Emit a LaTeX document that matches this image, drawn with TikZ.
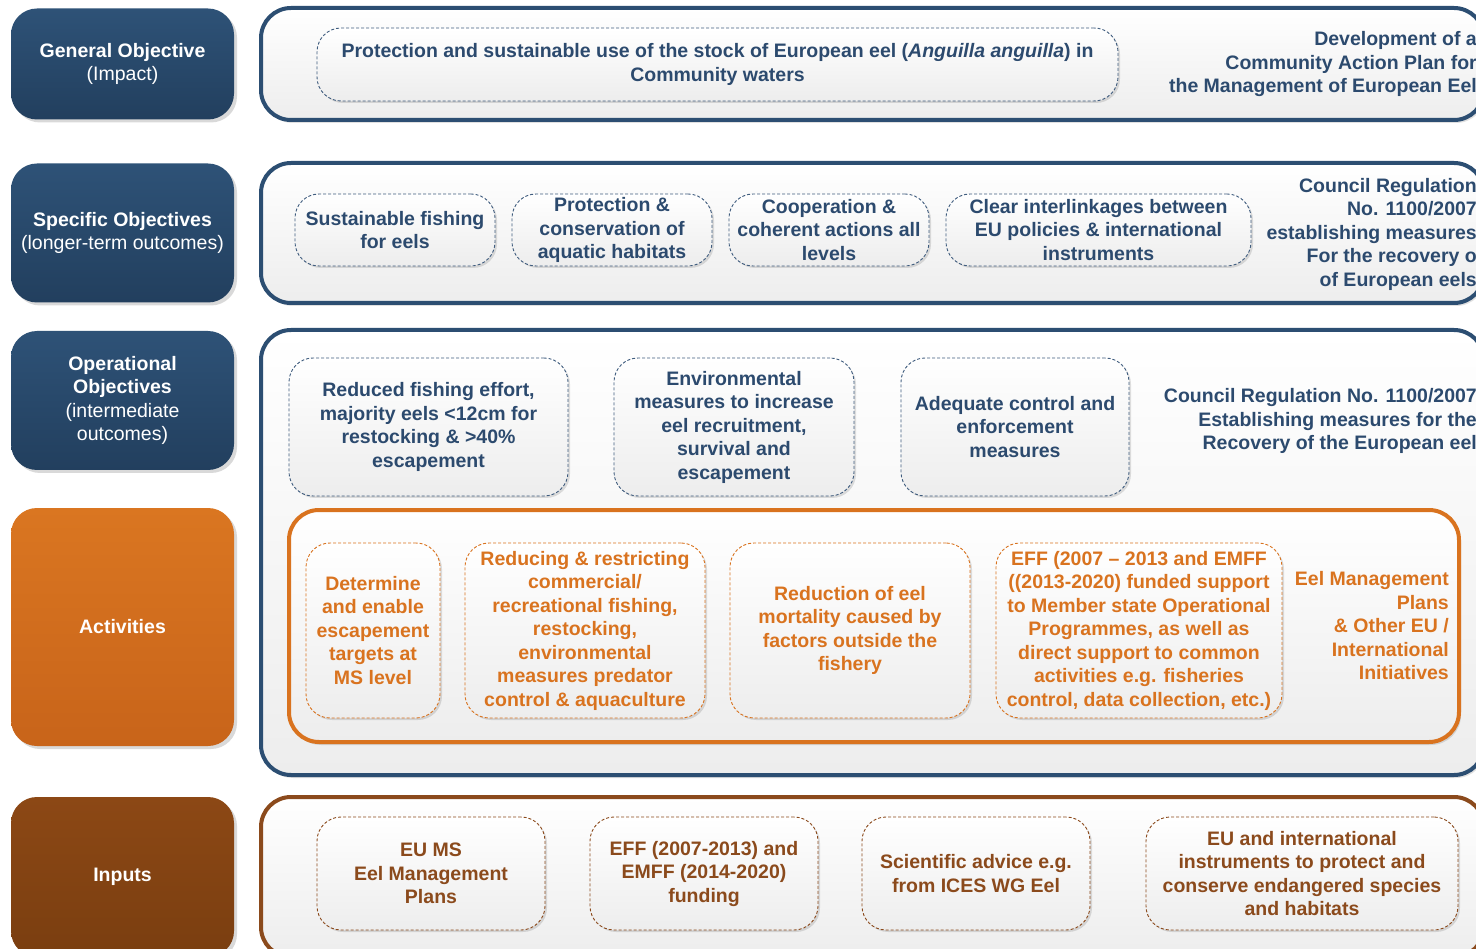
\documentclass[tikz,border=0pt]{standalone}
\usepackage{fontspec}
\setmainfont{Liberation Sans}
\usetikzlibrary{shadows}
\definecolor{dblue}{HTML}{2C4E72}
\definecolor{dbluetop}{HTML}{2E5277}
\definecolor{dbluebot}{HTML}{223F5E}
\definecolor{tblue}{HTML}{2C4A6E}
\definecolor{dashblue}{HTML}{3F5C7E}
\definecolor{orng}{HTML}{D9731F}
\definecolor{orngtop}{HTML}{DA7621}
\definecolor{orngbot}{HTML}{C8641A}
\definecolor{brwn}{HTML}{8B4A1C}
\definecolor{brwntop}{HTML}{8C4815}
\definecolor{brwnbot}{HTML}{7A3E10}
\definecolor{lgray}{HTML}{EDEDED}
\tikzset{
  leftbox/.style={rounded corners=26pt, minimum width=223pt, align=center, text=white, inner sep=2pt,
    drop shadow={shadow xshift=3pt, shadow yshift=-3pt, opacity=0.15, fill=black}},
  bluebox/.style={leftbox, top color=dbluetop, bottom color=dbluebot},
  orngbox/.style={leftbox, top color=orngtop, bottom color=orngbot},
  brwnbox/.style={leftbox, top color=brwntop, bottom color=brwnbot},
  cont/.style={rounded corners=30pt, line width=4pt, top color=white, bottom color=lgray,
    drop shadow={shadow xshift=2pt, shadow yshift=-3pt, opacity=0.12, fill=black}},
  dbox/.style={rounded corners=24pt, line width=0.9pt, dash pattern=on 3pt off 2pt, align=center,
    top color=white, bottom color=lgray, inner sep=2pt,
    drop shadow={shadow xshift=2pt, shadow yshift=-2pt, opacity=0.12, fill=black}},
  bdash/.style={dbox, draw=dashblue, text=tblue},
  odash/.style={dbox, draw=orng, text=orng},
  wdash/.style={dbox, draw=brwn, text=brwn},
  rtext/.style={anchor=east, align=right, inner sep=0pt},
}
\begin{document}
\begin{tikzpicture}[x=1pt, y=-1pt, font=\fontsize{19.5}{23.5}\selectfont\bfseries]
\useasboundingbox (0,0) rectangle (1476,949);
\fill[white] (0,0) rectangle (1476,949);

% left column
\node[bluebox, minimum height=111pt] (go) at (122.5,64) {General Objective\\{\mdseries (Impact)}};
\node[bluebox, minimum height=139pt] (so) at (122.5,233) {Specific Objectives\\{\mdseries (longer-term outcomes)}};
\node[bluebox, minimum height=139pt] (oo) at (122.5,400.5) {Operational\\Objectives\\{\mdseries (intermediate}\\{\mdseries outcomes)}};
\node[orngbox, minimum height=238pt] (act) at (122.5,627) {Activities};
\node[brwnbox, minimum height=160pt] (inp) at (122.5,877) {Inputs};

% containers
\node[cont, draw=dblue, minimum width=1223pt, minimum height=112pt] (c1) at (872.5,64) {};
\node[cont, draw=dblue, minimum width=1223pt, minimum height=140pt] (c2) at (872.5,233) {};
\node[cont, draw=dblue, minimum width=1223pt, minimum height=445pt] (c3) at (872.5,552.5) {};
\node[cont, draw=orng, minimum width=1170pt, minimum height=232pt] (c4) at (874,626) {};
\node[cont, draw=brwn, minimum width=1223pt, minimum height=160pt] (c5) at (872.5,877) {};

% row 1
\node[bdash, minimum width=801pt, minimum height=73pt] (g1) at (717.5,64.5)
  {Protection and sustainable use of the stock of European eel (\textit{Anguilla anguilla}) in\\Community waters};
\node[rtext, text=tblue] (g2) at (1477,64.5) {Development of a\\Community Action Plan for\\the Management of European Eel};

% row 2
\node[bdash, minimum width=200pt, minimum height=72pt] (s1) at (395,230) {Sustainable fishing\\for eels};
\node[bdash, minimum width=200pt, minimum height=72pt] (s2) at (612,230) {Protection \&\\conservation of\\aquatic habitats};
\node[bdash, minimum width=200pt, minimum height=72pt] (s3) at (829,230) {Cooperation \&\\coherent actions all\\levels};
\node[bdash, minimum width=305pt, minimum height=72pt] (s4) at (1098.5,230) {Clear interlinkages between\\EU policies \& international\\instruments};
\node[rtext, text=tblue] (s5) at (1477,234) {Council Regulation\\No. 1100/2007\\establishing measures\\For the recovery o\\of European eels};

% row 3
\node[bdash, minimum width=279pt, minimum height=138pt] (o1) at (428.5,427) {Reduced fishing effort,\\majority eels <12cm for\\restocking \& >40\%\\escapement};
\node[bdash, minimum width=240pt, minimum height=138pt] (o2) at (734,427) {Environmental\\measures to increase\\eel recruitment,\\survival and\\escapement};
\node[bdash, minimum width=228pt, minimum height=138pt] (o3) at (1015,427) {Adequate control and\\enforcement\\measures};
\node[rtext, text=tblue] (o4) at (1477,421) {Council Regulation No. 1100/2007\\Establishing measures for the\\Recovery of the European eel};

% activities
\node[odash, minimum width=134pt, minimum height=175pt] (a1) at (373,630.5) {Determine\\and enable\\escapement\\targets at\\MS level};
\node[odash, minimum width=240pt, minimum height=175pt] (a2) at (585,630.5) {Reducing \& restricting\\commercial/\\recreational fishing,\\restocking,\\environmental\\measures predator\\control \& aquaculture};
\node[odash, minimum width=240pt, minimum height=175pt] (a3) at (850,630.5) {Reduction of eel\\mortality caused by\\factors outside the\\fishery};
\node[odash, minimum width=286pt, minimum height=175pt] (a4) at (1139,630.5) {EFF (2007 -- 2013 and EMFF\\((2013-2020) funded support\\to Member state Operational\\Programmes, as well as\\direct support to common\\activities e.g. fisheries\\control, data collection, etc.)};
\node[rtext, text=orng] (a5) at (1449,626) {Eel Management\\Plans\\\& Other EU /\\International\\Initiatives};

% inputs
\node[wdash, minimum width=228pt, minimum height=113pt] (i1) at (431,873.5) {EU MS\\Eel Management\\Plans};
\node[wdash, minimum width=228pt, minimum height=113pt] (i2) at (704,873.5) {EFF (2007-2013) and\\EMFF (2014-2020)\\funding};
\node[wdash, minimum width=228pt, minimum height=113pt] (i3) at (976,873.5) {Scientific advice e.g.\\from ICES WG Eel};
\node[wdash, minimum width=312pt, minimum height=113pt] (i4) at (1302,873.5) {EU and international\\instruments to protect and\\conserve endangered species\\and habitats};
\end{tikzpicture}
\end{document}
